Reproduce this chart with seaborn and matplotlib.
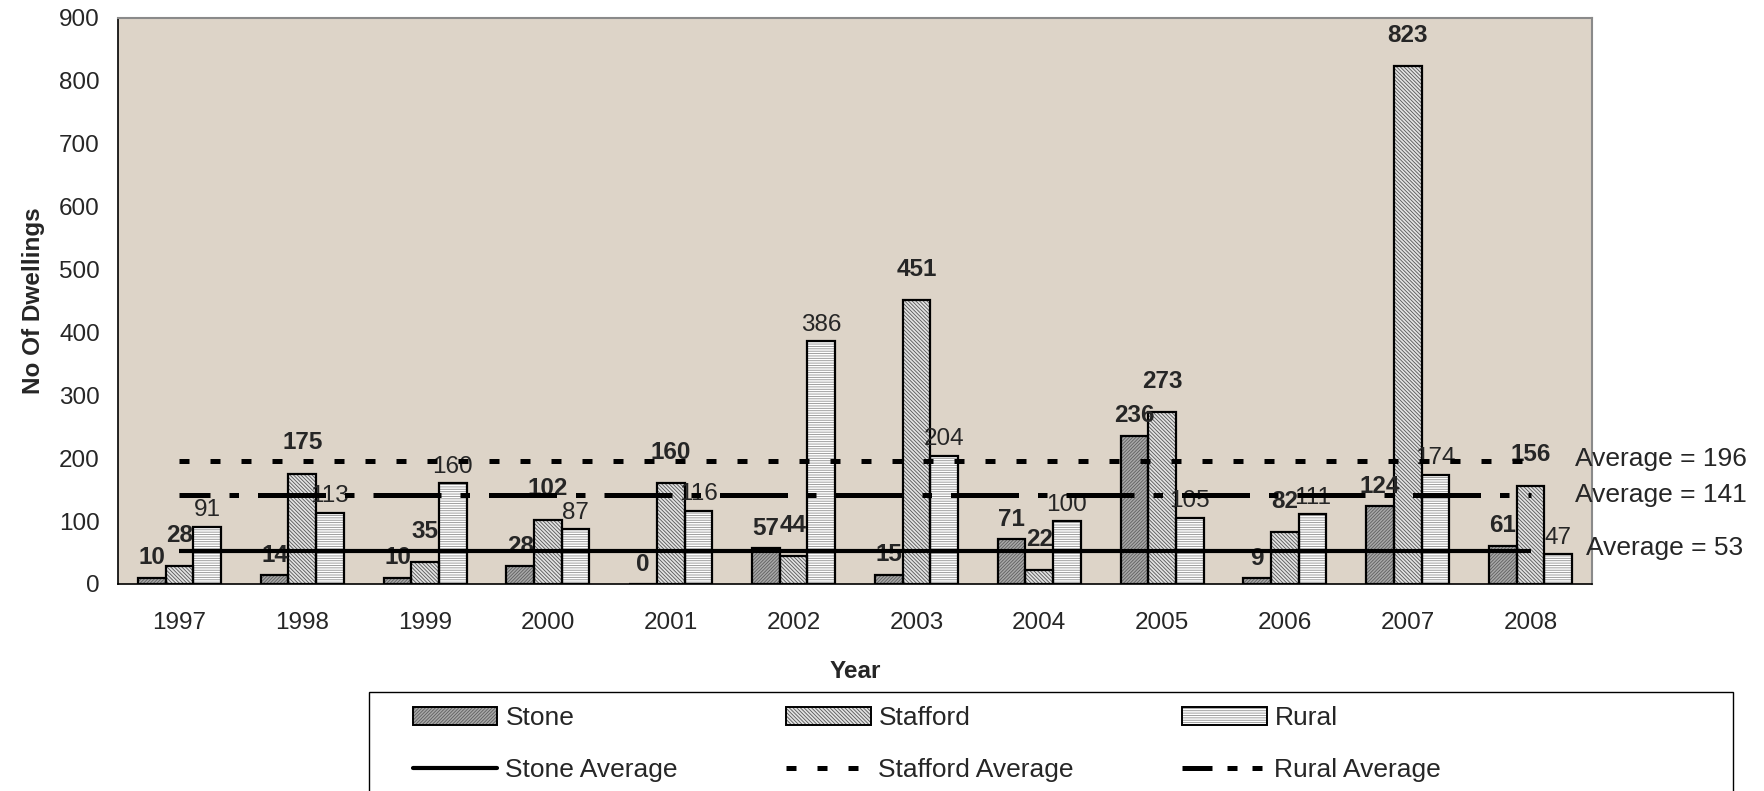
import pandas as pd
import matplotlib.pyplot as plt
import seaborn as sns
from matplotlib.patches import Patch, Rectangle
from matplotlib.lines import Line2D
from matplotlib import transforms

# data
years = ["1997", "1998", "1999", "2000", "2001", "2002",
         "2003", "2004", "2005", "2006", "2007", "2008"]
stone = [10, 14, 10, 28, 0, 57, 15, 71, 236, 9, 124, 61]
stafford = [28, 175, 35, 102, 160, 44, 451, 22, 273, 82, 823, 156]
rural = [91, 113, 160, 87, 116, 386, 204, 100, 105, 111, 174, 47]
series = ["Stone", "Stafford", "Rural"]
averages = {"Stone": 53, "Stafford": 196, "Rural": 141}

df = pd.DataFrame({
    "Year": years * 3,
    "Area": [s for s in series for _ in years],
    "Dwellings": stone + stafford + rural,
})

sns.set_style("white")
plt.rcParams["font.family"] = ["Liberation Sans", "DejaVu Sans"]
plt.rcParams["hatch.linewidth"] = 0.6

fills = {"Stone": "#a8a8a8", "Stafford": "#e2e2e2", "Rural": "#ffffff"}
hatch_cols = {"Stone": "#5e5e5e", "Stafford": "#555555", "Rural": "#909090"}
hatches = {"Stone": "/" * 10, "Stafford": "\\" * 9, "Rural": "-" * 7}

FS = 17.5
fig = plt.figure(figsize=(17.64, 7.91), dpi=100)
ax = fig.add_axes([118 / 1764, 1 - 584 / 791, (1592 - 118) / 1764, (584 - 18) / 791])
ax.set_facecolor("#ddd4c8")

sns.barplot(data=df, x="Year", y="Dwellings", hue="Area", hue_order=series,
            palette=fills, width=0.675, legend=False, ax=ax)

# hatch takes the edge colour, so draw the black outline as a separate frame
offsets = {"Stone": 13, "Stafford": 21, "Rural": 11}
for cont, name in zip(ax.containers, series):
    for bar in cont:
        bar.set_hatch(hatches[name])
        bar.set_edgecolor(hatch_cols[name])
        bar.set_linewidth(0)
        ax.add_patch(Rectangle(bar.get_xy(), bar.get_width(), bar.get_height(),
                               fill=False, edgecolor="black", lw=1.6, zorder=bar.get_zorder()))
    ax.bar_label(cont, labels=[str(int(v)) for v in cont.datavalues],
                 padding=offsets[name] - 7, fontsize=FS,
                 fontweight="normal" if name == "Rural" else "bold")

# average lines, from first to last year centre
n = len(years)
stafford_ls = (0, (2, 4.2))
rural_ls = (7.4, (13.6, 3.8, 1.9, 3.8))
ax.plot([0, n - 1], [averages["Stone"]] * 2, color="black", lw=3.0,
        solid_capstyle="butt", zorder=5)
ax.plot([0, n - 1], [averages["Stafford"]] * 2, color="black", lw=3.6,
        linestyle=stafford_ls, dash_capstyle="butt", zorder=5)
ax.plot([0, n - 1], [averages["Rural"]] * 2, color="black", lw=3.6,
        linestyle=rural_ls, dash_capstyle="butt", zorder=5)

trans = transforms.blended_transform_factory(ax.transAxes, ax.transData)
ax.text(0.9885, 199, "Average = %d" % averages["Stafford"], transform=trans,
        fontsize=19, va="center", ha="left")
ax.text(0.9885, 141, "Average = %d" % averages["Rural"], transform=trans,
        fontsize=19, va="center", ha="left")
ax.text(0.996, 57, "Average = %d" % averages["Stone"], transform=trans,
        fontsize=19, va="center", ha="left")

ax.set_xlim(-0.5, n - 0.5)
ax.set_ylim(0, 900)
ax.set_yticks(range(0, 901, 100))
ax.set_xticks([i - 0.5 for i in range(n + 1)], minor=True)
ax.set_xticks(range(n))
ax.set_xticklabels(years)
ax.tick_params(axis="x", which="major", length=0, pad=20, labelsize=FS)
ax.tick_params(axis="x", which="minor", length=8, width=1, direction="out",
               color="black")
ax.tick_params(axis="y", length=8, width=1, direction="out", labelsize=FS,
               color="black", pad=5)
ax.set_xlabel("Year", fontsize=FS, fontweight="bold", labelpad=19)
ax.set_ylabel("No Of Dwellings", fontsize=FS, fontweight="bold", labelpad=10)

for side in ["left", "bottom"]:
    ax.spines[side].set_color("black")
    ax.spines[side].set_linewidth(1.2)
for side in ["top", "right"]:
    ax.spines[side].set_color("#8a8a8a")
    ax.spines[side].set_linewidth(1.5)

# legend box (bottom runs off the figure like the original)
fig.patches.append(Rectangle((369 / 1764, -0.02), (1733 - 369) / 1764,
                             1 - 692 / 791 + 0.02, transform=fig.transFigure,
                             facecolor="white", edgecolor="black", lw=1.0,
                             zorder=0))

def hatched(name):
    inner = Patch(facecolor=fills[name], hatch=hatches[name],
                  edgecolor=hatch_cols[name], lw=0)
    outline = Patch(facecolor="none", edgecolor="black", lw=1.4)
    return (inner, outline)

handles = [
    hatched("Stone"),
    Line2D([], [], color="black", lw=3.0),
    hatched("Stafford"),
    Line2D([], [], color="black", lw=3.6, linestyle=(0, (2, 4.2))),
    hatched("Rural"),
    Line2D([], [], color="black", lw=3.6, linestyle=(0, (6, 3, 2, 3, 2, 3))),
]
labels = ["Stone", "Stone Average", "Stafford", "Stafford Average",
          "Rural", "Rural Average"]
leg = fig.legend(handles, labels, ncol=3, loc="upper left",
                 bbox_to_anchor=(413 / 1764, 1 - 706 / 791),
                 fontsize=19, frameon=False, handlelength=3.2, handleheight=0.65,
                 handletextpad=0.3, labelspacing=1.06, columnspacing=4.1,
                 borderpad=0, borderaxespad=0)

fig.savefig("out.png", dpi=100, facecolor="white")
